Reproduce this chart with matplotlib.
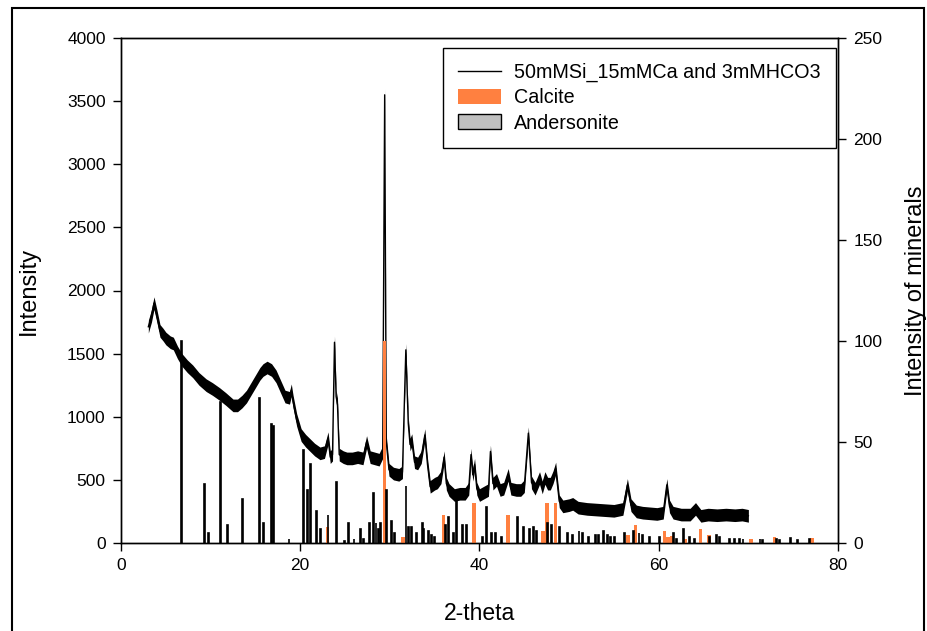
import numpy as np
import matplotlib.pyplot as plt
from matplotlib.patches import Rectangle, Patch
from matplotlib.lines import Line2D

plt.rcParams['font.family'] = ['Liberation Sans', 'DejaVu Sans']

# measured XRD trace: (2-theta, counts)
trace = [(3.05, 1713), (3.4, 1800), (3.68, 1900), (4.0, 1800), (4.35, 1680), (4.7, 1650),
         (5.0, 1620), (5.5, 1590), (5.84, 1580), (6.3, 1510), (6.8, 1450), (7.4, 1400),
         (8.0, 1360), (8.7, 1300), (9.5, 1250), (10.2, 1220), (11.0, 1180), (11.7, 1140),
         (12.5, 1090), (13.0, 1090), (13.5, 1120), (14.0, 1160), (14.5, 1220), (15.0, 1280),
         (15.5, 1340), (15.85, 1370), (16.3, 1390), (16.8, 1370), (17.3, 1320), (17.8, 1240),
         (18.3, 1160), (18.8, 1150), (19.0, 1210), (19.2, 1120), (19.6, 975), (20.1, 855),
         (20.6, 810), (21.1, 775), (21.6, 740), (22.2, 710), (22.7, 720), (23.1, 830),
         (23.35, 680), (23.6, 700), (23.82, 1590), (24.0, 1160), (24.15, 1100), (24.35, 700),
         (24.8, 680), (25.2, 670), (25.8, 670), (26.4, 680), (27.0, 670), (27.4, 800),
         (27.8, 680), (28.3, 670), (28.8, 660), (29.2, 720), (29.42, 3550), (29.6, 800),
         (29.9, 580), (30.4, 550), (31.0, 540), (31.4, 560), (31.78, 1530), (32.05, 950),
         (32.25, 780), (32.45, 815), (32.75, 640), (33.1, 630), (33.5, 680), (33.9, 855),
         (34.2, 620), (34.5, 445), (35.0, 470), (35.3, 480), (35.7, 520), (36.05, 680),
         (36.3, 470), (36.6, 420), (37.2, 380), (37.8, 390), (38.4, 390), (38.8, 430),
         (39.05, 700), (39.25, 540), (39.45, 620), (39.7, 430), (40.0, 380), (40.5, 400),
         (41.0, 420), (41.22, 725), (41.5, 470), (41.9, 500), (42.3, 420), (42.7, 430),
         (43.2, 540), (43.5, 430), (44.1, 420), (44.6, 420), (45.0, 450), (45.45, 870),
         (45.8, 480), (46.2, 430), (46.7, 515), (47.0, 440), (47.3, 515), (47.6, 470),
         (47.9, 470), (48.2, 520), (48.5, 590), (48.9, 330), (49.3, 290), (50.0, 300),
         (50.4, 310), (51.0, 280), (52.0, 270), (53.0, 265), (54.0, 260), (55.0, 255),
         (56.0, 270), (56.5, 460), (56.9, 300), (57.5, 250), (58.2, 240), (59.0, 235),
         (59.8, 230), (60.5, 240), (60.9, 460), (61.2, 290), (61.6, 240), (62.5, 225),
         (63.5, 225), (64.1, 270), (64.7, 215), (65.5, 225), (66.5, 220), (67.5, 225),
         (68.5, 220), (69.3, 225), (70.0, 215)]
noise_half = 50

# calcite reference lines (2-theta, relative intensity)
calcite_pos = [23.05, 29.4, 31.45, 35.97, 39.4, 43.15, 47.1, 47.5, 48.5, 56.6, 57.4,
               60.65, 61.0, 61.4, 63.0, 64.65, 65.6, 70.3, 72.9, 77.1]
calcite_int = [8, 100, 3, 14, 20, 14, 6, 20, 20, 4, 9,
               6, 3, 3.5, 2, 7, 4, 2, 3, 2.5]

# andersonite reference lines (2-theta, relative intensity)
anders_pos = [6.8, 9.35, 9.8, 11.15, 11.9, 13.6, 15.45, 15.9, 16.75, 17.05, 18.75,
              20.4, 20.85, 21.15, 21.8, 22.3, 23.1, 24.0, 24.9, 25.4, 26.0, 26.7,
              27.1, 27.7, 28.2, 28.45, 28.7, 29.0, 29.65, 30.2, 30.5, 31.8, 32.1,
              32.4, 33.0, 33.6, 33.8, 34.3, 34.6, 35.0, 36.2, 36.5, 37.1, 37.45,
              38.1, 38.5, 40.3, 40.75, 41.3, 41.8, 42.5, 44.25, 44.9, 45.6, 46.0,
              46.4, 47.6, 48.0, 48.9, 49.8, 50.4, 51.1, 51.5, 52.2, 52.9, 53.3,
              53.8, 54.3, 54.6, 55.1, 56.2, 57.2, 57.8, 58.2, 59.0, 60.1, 61.6,
              62.0, 62.8, 63.4, 64.0, 65.7, 66.4, 66.8, 67.9, 68.5, 69.0, 69.4,
              71.3, 71.6, 73.1, 73.5, 74.7, 75.5, 76.8]
anders_int = [100, 29, 5, 70, 9, 22, 72, 10, 59, 58, 2,
              46, 26, 39, 16, 7, 14, 30, 1, 10, 2, 7,
              2, 10, 25, 10, 7, 10, 26, 11, 5, 28, 8,
              8, 5, 10, 7, 6, 4, 3, 9, 13, 5, 22,
              9, 9, 3, 18, 5, 5, 3, 13, 8, 7, 8,
              6, 10, 9, 8, 5, 4, 6, 5, 3, 4, 4,
              6, 4, 3, 3, 5, 6, 5, 4, 3, 3, 5,
              2, 7, 3, 2, 3, 4, 3, 2, 2, 2, 2,
              2, 1.5, 2, 1.5, 2.5, 1.5, 2]

fig = plt.figure(figsize=(9.28, 6.31), dpi=100)
ax = fig.add_axes([121/928, 1-543/631, 717/928, 505/631])
ax2 = ax.twinx()

x = np.array([p[0] for p in trace])
y = np.array([p[1] for p in trace])
ax.fill_between(x, y - noise_half, y + noise_half, color='black', lw=0)
ax.plot(x, y, color='black', lw=1.0)

ax2.bar(calcite_pos, calcite_int, width=0.4, color='#ff8040', lw=0)
ax2.bar(anders_pos, anders_int, width=0.1, color='#c0c0c0', edgecolor='black', lw=1.2)

ax.set_xlim(0, 80)
ax.set_ylim(0, 4000)
ax2.set_ylim(0, 250)
ax.set_xticks([0, 20, 40, 60, 80])
ax.set_yticks(np.arange(0, 4001, 500))
ax2.set_yticks(np.arange(0, 251, 50))

for a in (ax, ax2):
    a.tick_params(direction='out', length=6, width=1, labelsize=12.5, pad=5)
    for s in a.spines.values():
        s.set_linewidth(1)

ax.set_xlabel('2-theta', fontsize=16.5)
ax.set_ylabel('Intensity', fontsize=17)
ax2.set_ylabel('Intensity of minerals', fontsize=17)
ax.xaxis.set_label_coords(0.5, -0.117)
ax.yaxis.set_label_coords(-0.113, 0.5)
ax2.yaxis.set_label_coords(1.094, 0.5)

handles = [Line2D([], [], color='black', lw=1.0),
           Patch(facecolor='#ff8040', edgecolor='none'),
           Patch(facecolor='#c0c0c0', edgecolor='black', lw=1.0)]
labels = ['50mMSi_15mMCa and 3mMHCO3', 'Calcite', 'Andersonite']
leg = ax2.legend(handles, labels, loc='upper right', bbox_to_anchor=(0.997, 0.98),
                 borderaxespad=0, fontsize=14.2, frameon=True, fancybox=False,
                 edgecolor='black', framealpha=1, borderpad=0.75, labelspacing=0.32,
                 handlelength=2.2, handleheight=0.8, handletextpad=0.66)
leg.get_frame().set_linewidth(1)

# outer border around the figure
fig.patches.append(Rectangle((12/928, -0.02), 912/928, 1.02 - 8/631, transform=fig.transFigure,
                             fill=False, edgecolor='black', lw=1.5))

fig.savefig('out.png', dpi=100)
